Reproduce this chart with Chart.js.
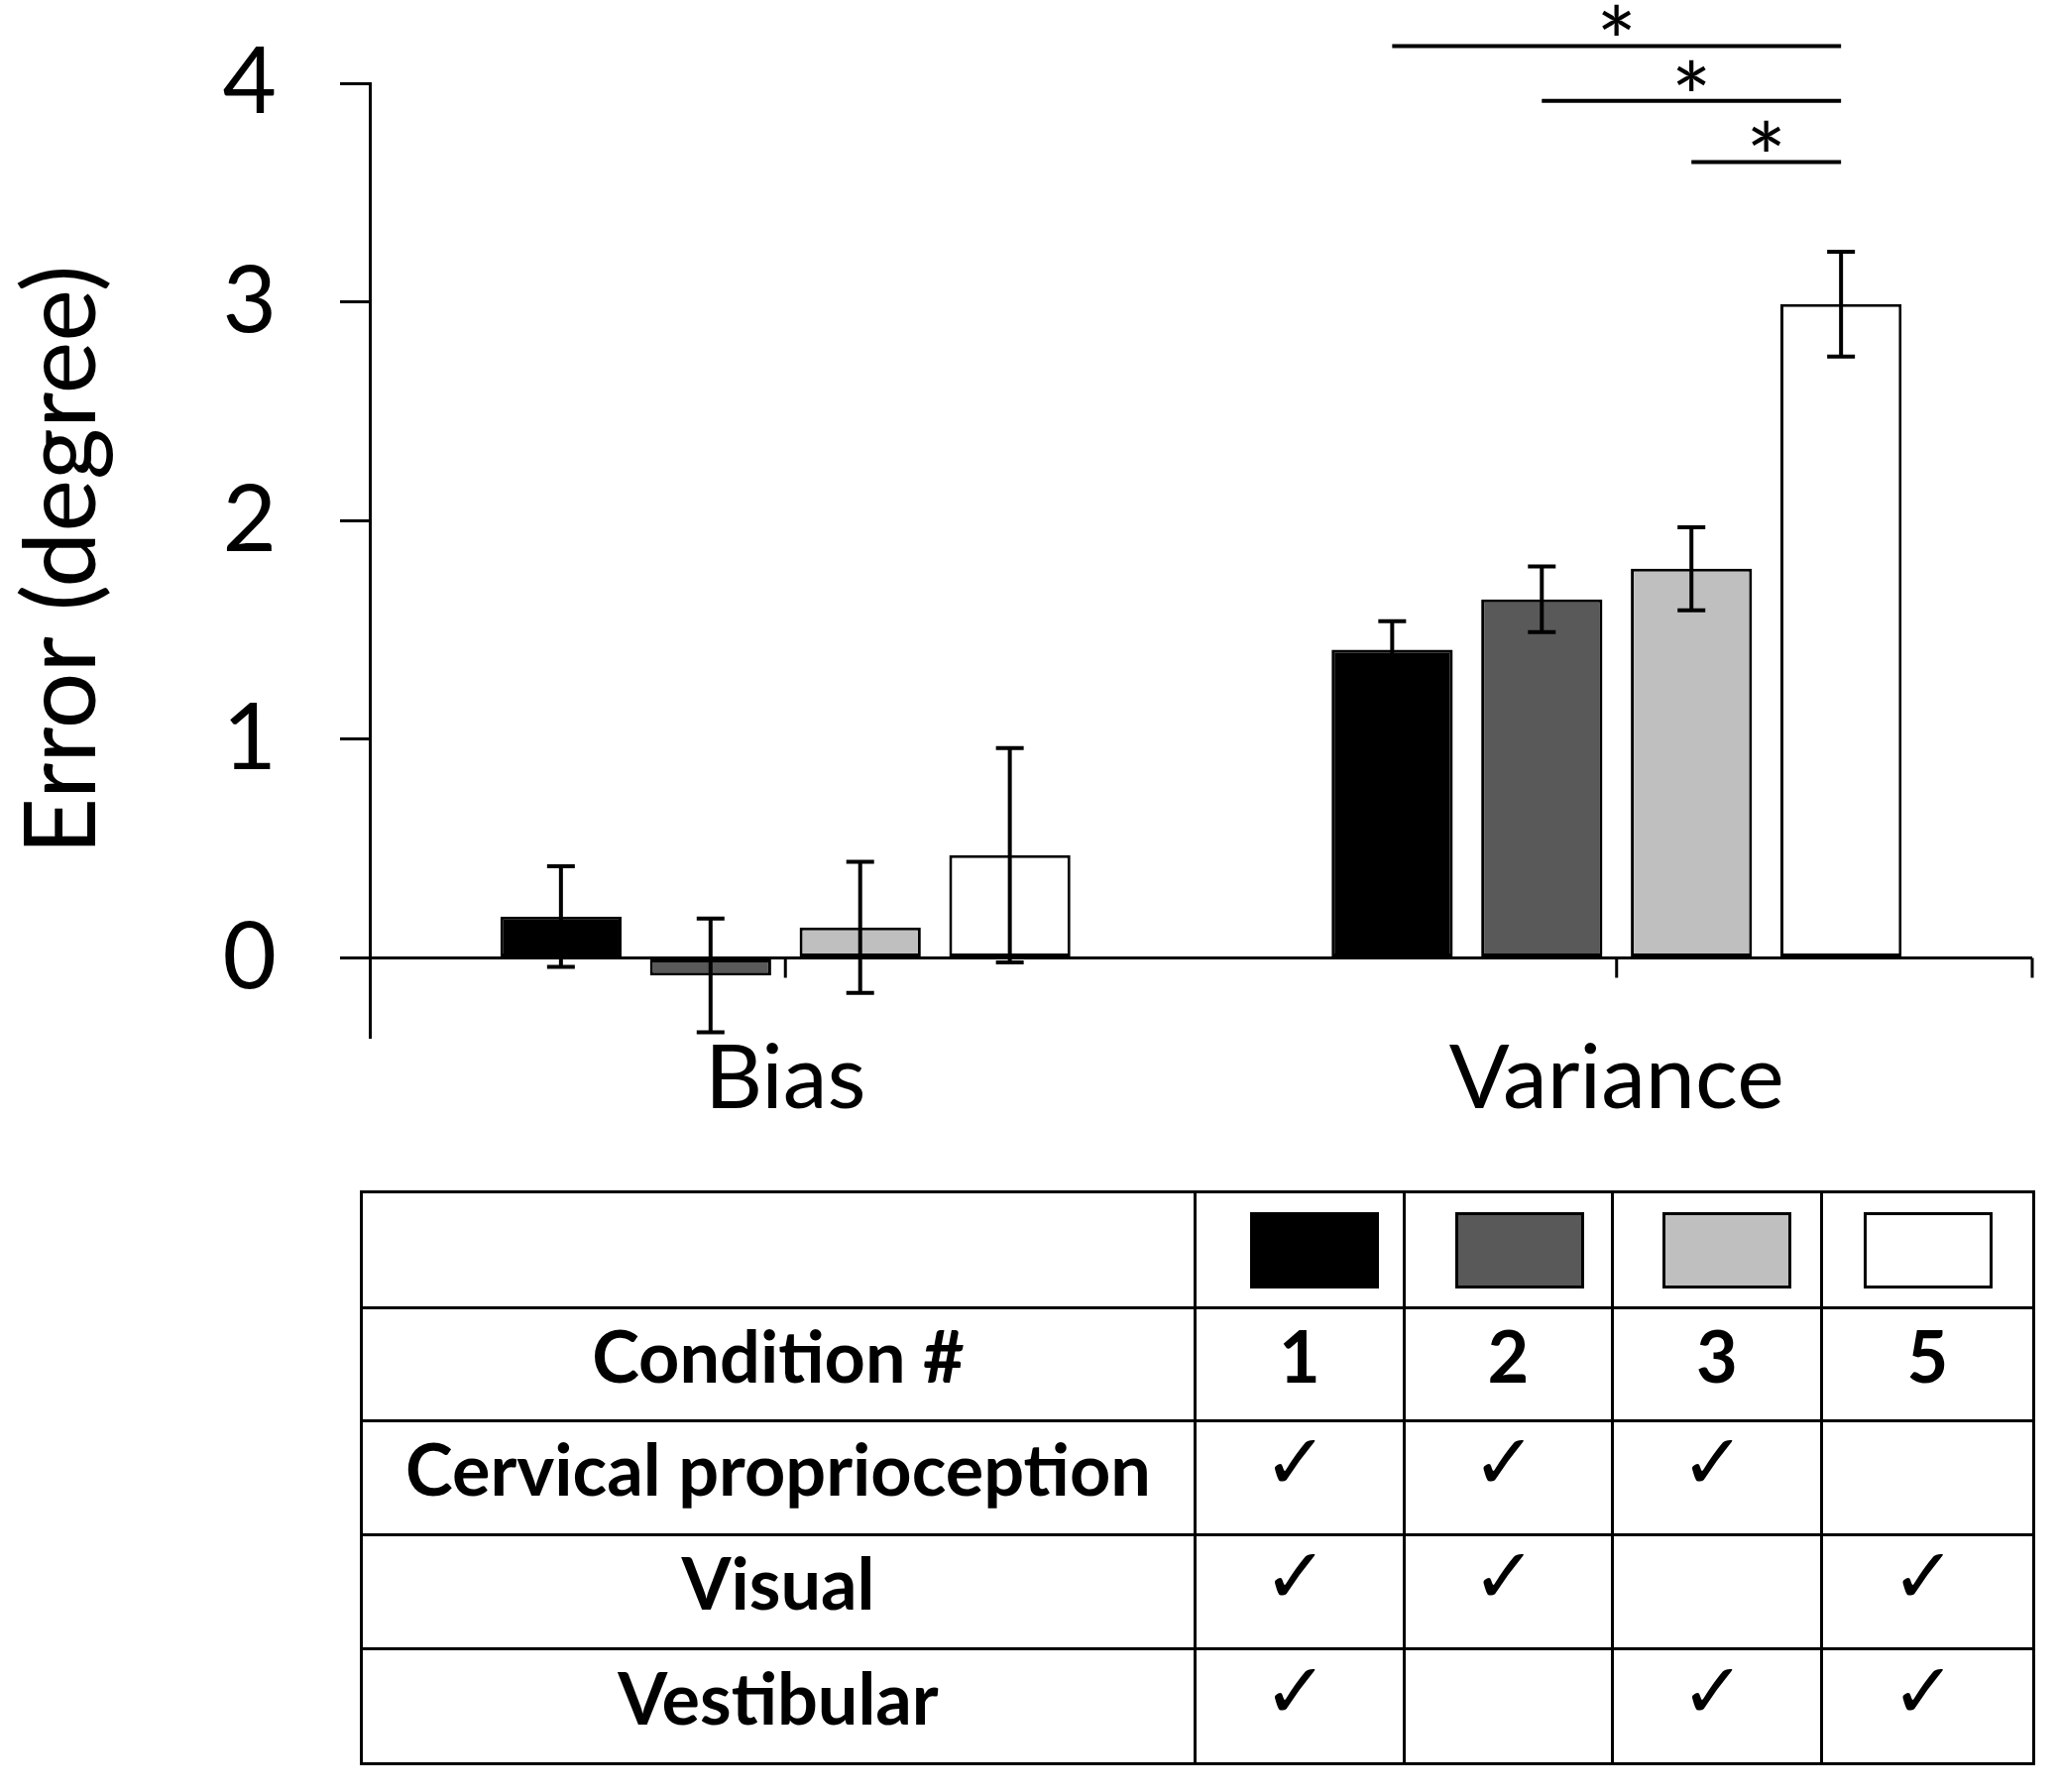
<!DOCTYPE html>
<html>
<head>
<meta charset="utf-8">
<script src="https://cdn.jsdelivr.net/npm/chart.js@4.4.0/dist/chart.umd.min.js"></script>
<style>
  html, body { margin: 0; padding: 0; background: #fff; }
  #wrap { position: absolute; left: 0; top: 0; width: 2077px; height: 1180px; }
  #condTable {
    position: absolute; left: 363px; top: 1201px;
    border-collapse: collapse; table-layout: fixed;
    font-family: Lato, sans-serif; font-weight: 700; font-size: 72px; color: #000;
  }
  #condTable td { border: 3px solid #000; text-align: center; vertical-align: middle; padding: 0; }
  .swatch { width: 124px; height: 71px; border: 3px solid #000; margin: 0 auto; position: relative; }
  #condTable td:nth-child(2) .swatch { left: 15px; }
  #condTable td:nth-child(3) .swatch { left: 11px; }
  #condTable td:nth-child(4) .swatch { left: 10px; }
  .check { font-family: "DejaVu Sans", sans-serif; font-weight: bold; font-size: 78px; position: relative; top: -16px; left: -4px; }
  .label { position: relative; top: -10px; }
</style>
</head>
<body>
<div id="wrap"><canvas id="chart"></canvas></div>
<table id="condTable"></table>
<script>
// categories and series (condition 1, 2, 3, 5)
const groups = ['Bias', 'Variance'];
const conditions = ['1', '2', '3', '5'];
const barColors = ['#000000', '#595959', '#bfbfbf', '#ffffff'];

const cond1 = [0.19, 1.41];
const cond2 = [-0.08, 1.64];
const cond3 = [0.14, 1.78];
const cond5 = [0.47, 2.99];

// +/- error
const err1 = [0.23, 0.13];
const err2 = [0.26, 0.15];
const err3 = [0.30, 0.19];
const err5 = [0.49, 0.24];

const yTicks = [0, 1, 2, 3, 4];

// significance brackets in the Variance group (dataset index from -> to)
const sigFrom = [0, 1, 2];
const sigTo = [3, 3, 3];
const sigLevel = [4.17, 3.92, 3.64];

// table below the chart
const rowNames = ['Cervical proprioception', 'Visual', 'Vestibular'];
const cervical = [true, true, true, false];
const visual = [true, true, false, true];
const vestibular = [true, false, true, true];

// build the table
const table = document.getElementById('condTable');
const colWidths = [841, 211, 210, 211, 214];
const rowHeights = [117, 114, 115, 115, 116];
let html = '<colgroup>' + colWidths.map(w => `<col style="width:${w}px">`).join('') + '</colgroup>';
html += `<tr style="height:${rowHeights[0]}px"><td></td>` +
  barColors.map(c => `<td><div class="swatch" style="background:${c}"></div></td>`).join('') + '</tr>';
html += `<tr style="height:${rowHeights[1]}px"><td><span class="label">Condition #</span></td>` +
  conditions.map(c => `<td><span class="label">${c}</span></td>`).join('') + '</tr>';
[cervical, visual, vestibular].forEach((flags, r) => {
  html += `<tr style="height:${rowHeights[r + 2]}px"><td><span class="label">${rowNames[r]}</span></td>` +
    flags.map(f => `<td>${f ? '<span class="check">✓</span>' : ''}</td>`).join('') + '</tr>';
});
table.innerHTML = html;

Chart.defaults.color = '#000';

const errorBars = {
  id: 'errorBars',
  afterDatasetsDraw(chart) {
    const ctx = chart.ctx;
    const y = chart.scales.y;
    ctx.save();
    ctx.strokeStyle = '#000';
    ctx.lineWidth = 4;
    chart.data.datasets.forEach((ds, i) => {
      chart.getDatasetMeta(i).data.forEach((bar, j) => {
        const v = ds.data[j];
        const e = ds.errors[j];
        const top = y.getPixelForValue(v + e);
        const bot = y.getPixelForValue(v - e);
        ctx.beginPath();
        ctx.moveTo(bar.x, top); ctx.lineTo(bar.x, bot);
        ctx.moveTo(bar.x - 14, top); ctx.lineTo(bar.x + 14, top);
        ctx.moveTo(bar.x - 14, bot); ctx.lineTo(bar.x + 14, bot);
        ctx.stroke();
      });
    });
    ctx.restore();
  }
};

// small tick marks hanging from the zero line, plus the significance bars
const extras = {
  id: 'extras',
  afterDraw(chart) {
    const ctx = chart.ctx;
    const x = chart.scales.x;
    const y = chart.scales.y;
    const y0 = y.getPixelForValue(0);
    ctx.save();
    ctx.strokeStyle = '#000';
    ctx.lineWidth = 3;
    ctx.beginPath();
    groups.forEach((g, i) => {
      const px = x.getPixelForValue(i);
      ctx.moveTo(px, y0); ctx.lineTo(px, y0 + 20);
    });
    ctx.moveTo(chart.chartArea.right, y0); ctx.lineTo(chart.chartArea.right, y0 + 20);
    ctx.stroke();

    ctx.lineWidth = 4;
    ctx.font = '96px Lato';
    ctx.fillStyle = '#000';
    ctx.textAlign = 'center';
    ctx.textBaseline = 'alphabetic';
    const m = ctx.measureText('*');
    sigFrom.forEach((a, k) => {
      const xa = chart.getDatasetMeta(a).data[1].x;
      const xb = chart.getDatasetMeta(sigTo[k]).data[1].x;
      const ly = y.getPixelForValue(sigLevel[k]);
      ctx.beginPath();
      ctx.moveTo(xa, ly); ctx.lineTo(xb, ly);
      ctx.stroke();
      const cy = ly - 26;
      ctx.fillText('*', (xa + xb) / 2, cy + (m.actualBoundingBoxAscent - m.actualBoundingBoxDescent) / 2);
    });
    ctx.restore();
  }
};

const series = [cond1, cond2, cond3, cond5];
const errs = [err1, err2, err3, err5];

new Chart(document.getElementById('chart'), {
  type: 'bar',
  data: {
    labels: groups,
    datasets: series.map((d, i) => ({
      label: 'Condition ' + conditions[i],
      data: d,
      errors: errs[i],
      backgroundColor: barColors[i],
      borderColor: '#000',
      borderWidth: 3,
      borderSkipped: false,
      categoryPercentage: 0.72,
      barPercentage: 0.81
    }))
  },
  options: {
    responsive: true,
    maintainAspectRatio: false,
    animation: false,
    layout: { padding: { top: 84, right: 27, left: 0, bottom: 0 } },
    plugins: {
      legend: { display: false },
      tooltip: { enabled: false }
    },
    scales: {
      x: {
        grid: { display: false, drawTicks: false },
        border: { display: false },
        ticks: { font: { family: 'Lato', size: 90, lineHeight: 1 }, padding: -2, color: '#000' },
        afterFit(scale) {
          scale.height = 134;
          scale.paddingLeft = 0;
          scale.paddingRight = 0;
        }
      },
      y: {
        min: -0.36,
        max: 4,
        afterBuildTicks(scale) { scale.ticks = yTicks.map(v => ({ value: v })); },
        afterFit(scale) {
          scale.width = 373;
          scale.paddingTop = 0;
          scale.paddingBottom = 0;
        },
        border: { display: true, color: '#000', width: 3 },
        grid: {
          color: ctx => (ctx.tick && ctx.tick.value === 0 ? '#000' : 'rgba(0,0,0,0)'),
          lineWidth: 3,
          tickColor: '#000',
          tickLength: 30,
          tickWidth: 3
        },
        ticks: { font: { family: 'Lato', size: 94 }, padding: 64, color: '#000' },
        title: {
          display: true,
          text: 'Error (degree)',
          font: { family: 'Lato', size: 100 },
          color: '#000',
          padding: { top: 4, bottom: 0 }
        }
      }
    }
  },
  plugins: [errorBars, extras]
});
</script>
</body>
</html>
